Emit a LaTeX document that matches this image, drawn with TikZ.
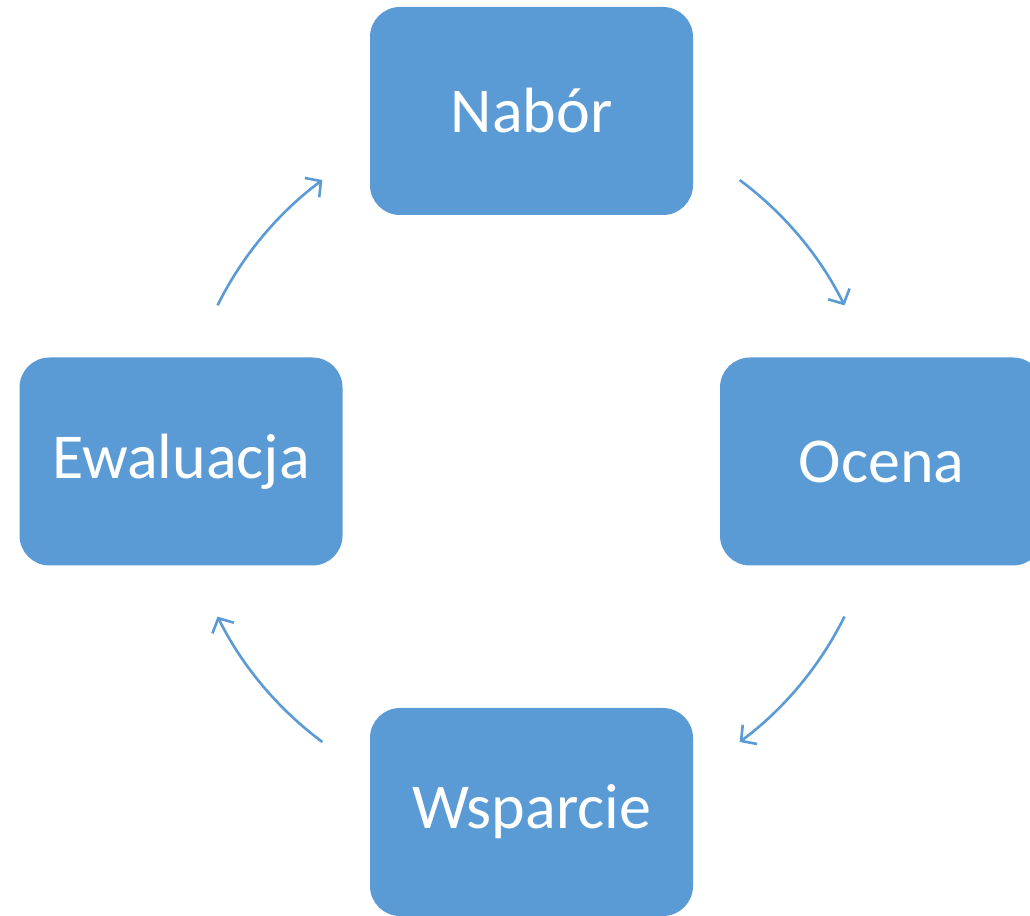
\documentclass[tikz,border=0pt]{standalone}
\usepackage{fontspec}
\setmainfont{Carlito}
\usetikzlibrary{arrows.meta}
\definecolor{boxblue}{HTML}{5B9BD5}
\begin{document}
\begin{tikzpicture}[x=1pt,y=1pt,
  stagebox/.style={fill=boxblue, draw=none, rounded corners=30pt,
    minimum width=323pt, minimum height=208pt, inner sep=0pt,
    text=white, font=\fontsize{64}{76}\selectfont},
  cyc/.style={draw=boxblue, line width=2.6pt,
    -{Straight Barb[length=11pt,width=24pt,line width=2.6pt]}}]
\useasboundingbox (0,0) rectangle (1030,915);
\fill[white] (0,0) rectangle (1030,915);
\node[stagebox] (nab) at (531.5,804) {Nabór};
\node[stagebox] (oce) at (881.5,453.5) {Ocena};
\node[stagebox] (wsp) at (531.5,103) {Wsparcie};
\node[stagebox] (ewa) at (181,453.5) {Ewaluacja};
\coordinate (c) at (531,454);
\coordinate (s1) at ([shift={(53.4:350)}]c);
\coordinate (s2) at ([shift={(-26.4:350)}]c);
\coordinate (s3) at ([shift={(-126.6:350)}]c);
\coordinate (s4) at ([shift={(153.6:350)}]c);
\draw[cyc] (s1) arc[start angle=53.4, end angle=26.4, radius=350];
\draw[cyc] (s2) arc[start angle=-26.4, end angle=-53.4, radius=350];
\draw[cyc] (s3) arc[start angle=-126.6, end angle=-153.6, radius=350];
\draw[cyc] (s4) arc[start angle=153.6, end angle=126.6, radius=350];
\end{tikzpicture}
\end{document}
